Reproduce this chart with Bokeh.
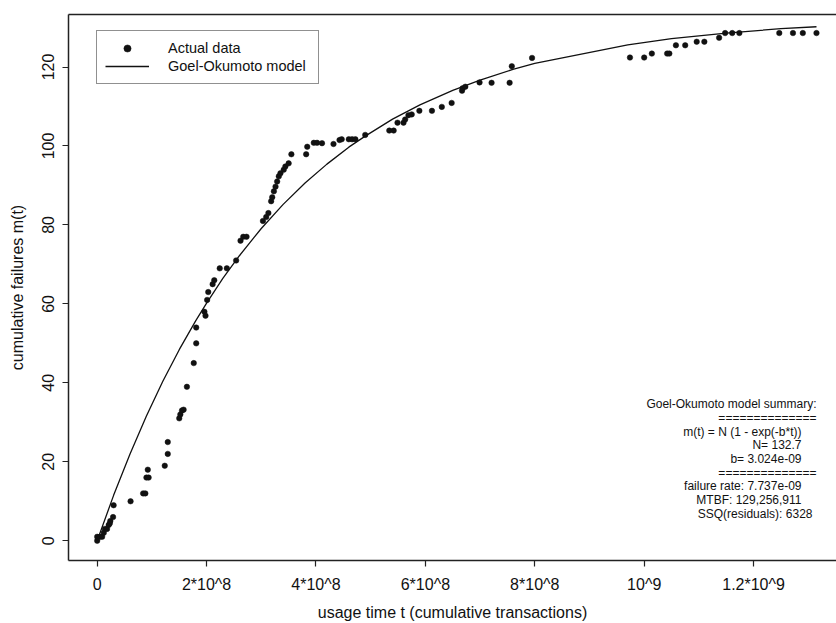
from bokeh.plotting import figure
from bokeh.models import (FixedTicker, LinearAxis, Range1d, Legend, LegendItem,
                          ColumnDataSource)
from bokeh.core.properties import value
from bokeh.embed import file_html
from bokeh.resources import INLINE

# ---- data ----
# usage time t in units of 1e8 cumulative transactions
usage_t_e8 = [0.00, 0.00, 0.05, 0.09, 0.12, 0.14, 0.18, 0.21, 0.23, 0.24, 0.29, 0.30,
              0.61, 0.84, 0.88, 0.90, 0.94, 0.925, 1.235, 1.29, 1.29,
              1.50, 1.52, 1.55, 1.58, 1.64, 1.765, 1.81, 1.81, 1.96, 1.98,
              2.01, 2.03, 2.11, 2.14, 2.24, 2.37, 2.54, 2.62, 2.67, 2.73,
              3.03, 3.09, 3.13, 3.18, 3.20, 3.23, 3.26, 3.29, 3.32, 3.35, 3.41,
              3.44, 3.50, 3.55, 3.82, 3.84, 3.96, 4.02, 4.11, 4.32,
              4.43, 4.47, 4.60, 4.66, 4.72, 4.90, 5.34, 5.42, 5.49, 5.60, 5.63,
              5.69, 5.75, 5.89, 6.12, 6.30, 6.48, 6.67, 6.68, 6.73, 6.99, 7.21,
              7.54, 7.58, 7.95, 9.74, 10.00, 10.14, 10.42, 10.46, 10.58, 10.75,
              10.96, 11.10, 11.37, 11.48, 11.61, 11.74, 12.47, 12.72, 12.90, 13.15]
failures = [0, 1, 1, 1, 2, 3, 3, 4, 4.4, 5, 6, 9,
            10, 12, 12, 16, 16, 18, 19, 22, 25,
            31, 32, 33, 33.2, 39, 45, 50, 54, 58, 57,
            61, 63, 65, 66, 69, 69, 71, 76, 77, 77,
            81, 82, 83, 86, 87, 88.5, 89.7, 91, 92.3, 93.1, 94,
            94.8, 95.6, 97.9, 97.9, 99.8, 100.8, 100.8, 100.7, 100.5,
            101.5, 101.7, 101.7, 101.7, 101.7, 102.8, 103.9, 103.9, 105.9, 105.9, 106.7,
            107.8, 108, 108.9, 108.9, 109.9, 110.9, 114, 114.6, 115, 116.1, 116,
            116, 120.2, 122.3, 122.4, 122.4, 123.4, 123.4, 123.4, 125.5, 125.5,
            126.4, 126.4, 127.4, 128.6, 128.6, 128.6, 128.6, 128.6, 128.6, 128.6]

# fitted Goel-Okumoto curve as drawn (t in 1e8, m(t))
model_t_e8 = [0, 0.3, 0.6, 0.9, 1.2, 1.5, 1.8, 2.0, 2.3, 2.6, 3.0, 3.4, 3.8, 4.2,
              4.6, 4.9, 5.4, 5.9, 6.5, 7.0, 7.6, 8.0, 9.7, 10.5, 11.5, 12.5, 13.15]
model_m = [0, 11.5, 22.0, 31.6, 40.4, 48.4, 55.7, 60.2, 66.5, 72.2, 79.1, 85.2, 90.6,
           95.4, 99.7, 102.5, 106.8, 110.4, 114.1, 116.7, 119.4, 120.9, 125.6, 127.2,
           128.6, 129.7, 130.2]

x_ticks = [0, 200000000, 400000000, 600000000, 800000000, 1000000000, 1200000000]
x_tick_labels = ["0", "2*10^8", "4*10^8", "6*10^8", "8*10^8", "10^9", "1.2*10^9"]
y_ticks = [0, 20, 40, 60, 80, 100, 120]

x_title = "usage time t (cumulative transactions)"
y_title = "cumulative failures m(t)"

summary_lines = ["Goel-Okumoto model summary:",
                 "==============",
                 "m(t) = N (1 - exp(-b*t))",
                 "N= 132.7",
                 "b= 3.024e-09",
                 "==============",
                 "failure rate: 7.737e-09",
                 "MTBF: 129,256,911",
                 "SSQ(residuals): 6328"]

legend_labels = ["Actual data", "Goel-Okumoto model"]

# ---- figure ----
FONT = "Liberation Sans"
INK = "#111111"
AXC = "#222222"

usage_t = [v * 1e8 for v in usage_t_e8]
model_t = [v * 1e8 for v in model_t_e8]

p = figure(width=836, height=623, output_backend="svg", toolbar_location=None,
           x_range=Range1d(-5.247e7, 1.3516e9), y_range=Range1d(-5.0, 133.3),
           min_border_left=68, min_border_right=0, min_border_top=14,
           min_border_bottom=61)
p.outline_line_color = None
p.grid.visible = False
p.background_fill_color = "white"
p.border_fill_color = "white"

src = ColumnDataSource(dict(t=usage_t, m=failures))
msrc = ColumnDataSource(dict(t=model_t, m=model_m))

r_line = p.line("t", "m", source=msrc, line_color=INK, line_width=1.3)
r_pts = p.scatter("t", "m", source=src, size=5.5, fill_color=INK, line_color=INK,
                  line_width=0.5)

# axes
xa = p.xaxis[0]
xa.ticker = FixedTicker(ticks=x_ticks)
xa.major_label_overrides = {t: lab for t, lab in zip(x_ticks, x_tick_labels)}
xa.axis_label = x_title
ya = p.yaxis[0]
ya.ticker = FixedTicker(ticks=y_ticks)
ya.major_label_orientation = "vertical"
ya.axis_label = y_title

for ax in (xa, ya):
    ax.axis_line_color = AXC
    ax.axis_line_width = 1.5
    ax.major_tick_line_color = AXC
    ax.major_tick_line_width = 1.2
    ax.major_tick_in = 0
    ax.major_tick_out = 6
    ax.minor_tick_in = 0
    ax.minor_tick_out = 0
    ax.major_label_text_font = FONT
    ax.major_label_text_font_size = "16px"
    ax.major_label_text_color = INK
    ax.axis_label_text_font = FONT
    ax.axis_label_text_font_size = "16px"
    ax.axis_label_text_font_style = "normal"
    ax.axis_label_text_color = INK

xa.major_label_standoff = 9
xa.axis_label_standoff = 8
ya.major_label_standoff = 8
ya.axis_label_standoff = 14

top = LinearAxis(ticker=FixedTicker(ticks=[]), major_tick_in=0, major_tick_out=0,
                 minor_tick_in=0, minor_tick_out=0, major_label_standoff=0,
                 axis_line_color=AXC, axis_line_width=1.5)
p.add_layout(top, "above")

# legend
legend = Legend(items=[LegendItem(label=legend_labels[0], renderers=[r_pts]),
                       LegendItem(label=legend_labels[1], renderers=[r_line])],
                location=(28, 476), margin=0, padding=8, spacing=0,
                label_standoff=19, glyph_width=44, glyph_height=18,
                label_height=18, label_width=142,
                label_text_font=FONT, label_text_font_size="14.5px",
                label_text_color=INK, border_line_color=AXC,
                border_line_width=1.2, background_fill_color="white",
                background_fill_alpha=1.0)
p.add_layout(legend)

# summary text block, right aligned at the last observation
n = len(summary_lines)
y0, dy = 34.6, 3.47
x_end = usage_t[-1]
offsets = [0, 0, -15, -15, -15, 0, -15, -15, -4]
tsrc = ColumnDataSource(dict(x=[x_end] * n, y=[y0 - i * dy for i in range(n)],
                             txt=summary_lines, xo=offsets))
p.text("x", "y", text="txt", source=tsrc, x_offset="xo", text_align="right",
       text_baseline="middle", text_font=value(FONT), text_font_size="12px",
       text_color=INK)

open("out.html", "w").write(file_html(p, INLINE))
